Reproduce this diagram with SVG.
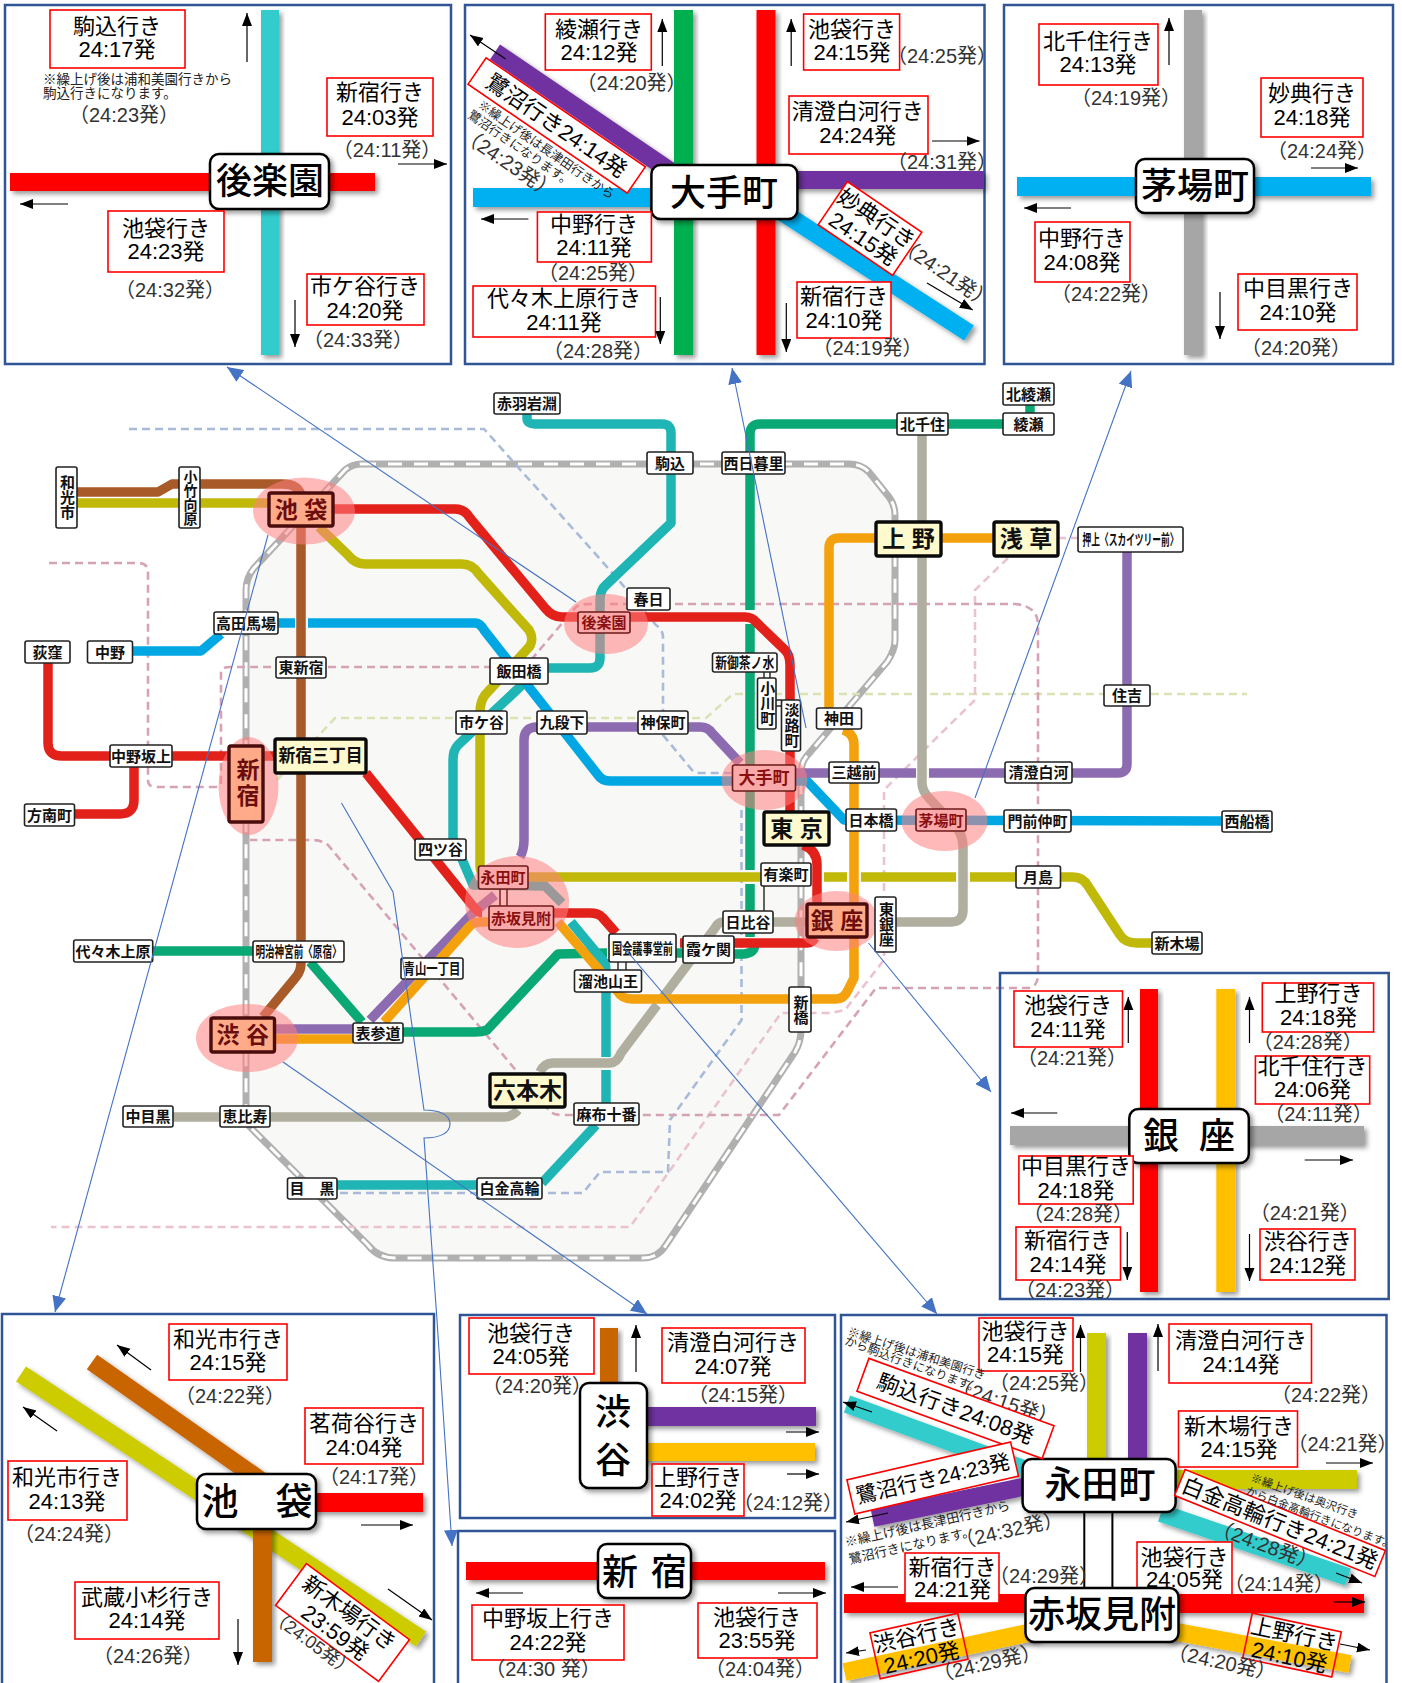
<svg xmlns="http://www.w3.org/2000/svg" width="1402" height="1683" viewBox="0 0 1402 1683">
<style>
text{font-family:"Liberation Sans","Noto Sans CJK JP",sans-serif;fill:#000}
.pn{fill:#fff;stroke:#2f5597;stroke-width:2.5}
.b{fill:#fff;stroke:#f00;stroke-width:1.6}
.bn{fill:none;stroke:#f00;stroke-width:1.6}
.t{font-size:22px;text-anchor:middle}
.s{font-size:20px;text-anchor:middle;fill:#333}
.n{font-size:13px;fill:#222}
.c{fill:#fff;stroke:#000;stroke-width:2.5;filter:url(#sh)}
.ct{font-size:36px;text-anchor:middle;font-weight:500}
.ar{stroke:#000;stroke-width:1.2;fill:none;marker-end:url(#ah)}
.l{stroke-width:18;fill:none;filter:url(#sh)}
.lt{stroke-width:9.5;fill:none;stroke-linejoin:round}
.gap{stroke:#f8f8f6;stroke-width:10;fill:none}
.dash{fill:none;stroke-width:2.6;stroke-dasharray:8 5}
.halo{fill:#ff7f7f;opacity:.55}
.st rect{fill:#fff;stroke:#222;stroke-width:1.6}
.st text{font-size:15px;font-weight:700;text-anchor:middle;dominant-baseline:central;fill:#111}
.pk rect{fill:#f9a9a9;stroke:#6e1a1a;stroke-width:1.6}
.pk text{font-size:15px;font-weight:700;text-anchor:middle;dominant-baseline:central;fill:#8b0f0f}
.sa rect{fill:#ffab8a;stroke:#4a0c0c;stroke-width:3.4}
.sa text{font-size:23px;font-weight:700;text-anchor:middle;dominant-baseline:central;fill:#6b0d0d}
.cr rect{fill:#fffacd;stroke:#0a0a0a;stroke-width:3.4}
.cr text{font-size:23px;font-weight:700;text-anchor:middle;dominant-baseline:central;fill:#111}
.v{writing-mode:vertical-rl}
.cn{stroke:#4472c4;stroke-width:1.1;fill:none;marker-end:url(#bh)}
</style>
<defs>
<filter id="sh" x="-30%" y="-60%" width="160%" height="220%"><feDropShadow dx="3" dy="3" stdDeviation="2.5" flood-color="#000" flood-opacity=".4"/></filter>
<marker id="ah" markerUnits="userSpaceOnUse" markerWidth="14" markerHeight="12" refX="13" refY="5" orient="auto"><path d="M0,0L13,5L0,10Z" fill="#000"/></marker>
<marker id="bh" markerUnits="userSpaceOnUse" markerWidth="17" markerHeight="14" refX="16" refY="7" orient="auto"><path d="M0,0L16,7L0,14Z" fill="#4472c4"/></marker>
</defs>
<rect width="1402" height="1683" fill="#fff"/>

<g id="map-lines">
<path d="M362,464L849,464Q861,464 869,472L889,497Q895,505 895,515L895,640Q895,650 887,662L806,757Q801,763 801,775L801,1030Q801,1042 795,1052L666,1245Q658,1258 643,1258L395,1258Q378,1258 368,1245L250,1127Q246,1122 246,1115L246,590Q246,578 254,568L345,470Q352,464 362,464Z" fill="#f8f8f6" stroke="#b0b0b0" stroke-width="7"/>
<path d="M362,464L849,464Q861,464 869,472L889,497Q895,505 895,515L895,640Q895,650 887,662L806,757Q801,763 801,775L801,1030Q801,1042 795,1052L666,1245Q658,1258 643,1258L395,1258Q378,1258 368,1245L250,1127Q246,1122 246,1115L246,590Q246,578 254,568L345,470Q352,464 362,464Z" fill="none" stroke="#fff" stroke-width="3" stroke-dasharray="14 12"/>
<path class="dash" stroke="#d9e3b5" d="M277,780L335,718L706,718L733,694L1247,694"/>
<path class="dash" stroke="#eac3cf" d="M1058,538L1078,538M1008,558L975,590L975,700L916,758L884,790L884,960L845,1010L831,1013L781,1013L630,1227L51,1227"/>
<path class="dash" stroke="#a9bbd9" d="M129,429L484,429L616,577L656,625Q663,630 663,637L663,735L692,770Q695,773 700,773L733,773M741.5,810L741.5,1020L670,1120L668,1172L600,1172L583,1193L337,1193"/>
<path class="dash" stroke="#d6a3b6" d="M49,563L138,563Q148,563 148,572L148,780Q148,787 156,787L214,787Q221,787 221,782L221,673Q221,667 230,667L490,667M531,660L576,607Q580,604 590,604L1015,604Q1038,606 1038,625L1038,974Q1038,988 1027,988L876,988L779,1115L562,1115Q552,1115 549,1110L328,845Q322,840 312,840L250,840"/>

<path class="lt" stroke="#0aa874" d="M1030,405L1030,413M1003,424L760,424Q750,424 750,434L750,937M734,954L744,954Q754,953 755,945M676,953L683,953M607,953L558,954L487,1030Q482,1032 475,1032L403,1032M362,1022L310,962M153,951L253,951M947,424L1003,424"/>
<path class="gap" d="M750,610L750,624M750,870L750,884"/>
<path class="lt" stroke="#00a7e3" d="M132,651L201,651L221,634M278,623L475,623Q480,623 484,630L598,775Q602,781 610,781L733,781M796,781L807,781L844,820L1222,821"/>
<path class="gap" d="M295,623L308,623"/>
<path class="lt" stroke="#8c6bb1" d="M274,1029L353,1029M370,1020L473,913L495,895M520,857Q524,850 524,840L524,740Q524,727 537,727L700,727Q708,727 712,733L740,763M796,773L1118,773Q1127,773 1127,764L1127,552"/>
<path class="lt" stroke="#1fb5b5" d="M527,414L527,418Q527,424 535,424L662,424Q671,424 671,433L671,523L606,585Q600,590 600,600L600,658Q600,668 590,668L548,668M522,685L458,745Q453,750 453,760L453,838L473,885L545,886L562,903M571,922L605,963Q606,966 606,975L606,1103M596,1125L542,1183M337,1185L477,1185"/>
<path class="lt" stroke="#c1b90a" d="M77,503L300,503M319,527L348,555Q355,564 365,564L462,564Q472,564 478,573L529,630Q534,638 530,646L485,695Q480,702 480,712L480,865Q480,877 492,877L1073,877Q1083,877 1088,886L1120,935Q1125,943 1137,943L1152,943"/>
<path class="gap" d="M810,877L824,877M847,877L861,877M956,877L970,877M916,773L929,773M606,1057L606,1070"/>
<path class="lt" stroke="#b0ae9e" d="M922,435L922,783Q922,790 928,797L956,827Q963,835 963,847L963,910Q963,922 951,922L896,922M773,922L807,922M723,922Q718,922 715,928L621,1053Q617,1063 610,1063L553,1063Q544,1063 540,1072M518,1110Q512,1117 504,1117L173,1117"/>
<path class="gap" d="M650,992L665,1005"/>
<path class="lt" stroke="#e3211b" d="M333,509L455,509Q465,509 470,518L545,608Q552,617 562,617L745,617Q752,617 756,622L785,650Q790,655 790,665L790,812M803,845Q817,850 817,865L817,904M734,943L807,943Q812,943 815,938M680,943L683,943M616,933L602,917Q598,913 590,913L553,913M482,913Q478,913 472,905L366,773M275,756L263,756M229,756L172,756M110,756L62,756Q48,756 48,743L48,663M134,767L134,800Q134,814 120,814L74,814"/>
<path class="lt" stroke="#f3a20d" d="M274,1039L353,1039M384,1022L469,927Q473,922 480,922L489,922M558,922L618,992Q622,999 632,999L836,999Q844,999 848,990L854,978L854,745Q854,733 843,730M829,708L829,548Q829,538 839,538L876,538M941,538L994,538"/>
<path class="lt" stroke="#a85a28" d="M77,492L158,492L172,484L282,484Q301,484 301,498L301,963Q301,971 296,977L263,1017"/>
</g>

<g id="halos">
<ellipse class="halo" cx="304" cy="511" rx="51" ry="33.5"/>
<ellipse class="halo" cx="606" cy="624" rx="42" ry="30"/>
<ellipse class="halo" cx="248.5" cy="786" rx="30" ry="49"/>
<ellipse class="halo" cx="764.5" cy="780" rx="43" ry="30"/>
<ellipse class="halo" cx="944.5" cy="821" rx="43" ry="30"/>
<ellipse class="halo" cx="517" cy="902" rx="52" ry="46"/>
<ellipse class="halo" cx="247" cy="1038" rx="51" ry="34"/>
<ellipse class="halo" cx="836.5" cy="921" rx="42" ry="30"/>
</g>

<g id="stations">
<g id="st-wako" class="st"><rect x="56" y="467" width="21" height="61" rx="2"/><text class="v" x="66.5" y="497.5">和光市</text></g>
<g id="st-kotake" class="st"><rect x="179" y="467" width="21" height="61" rx="2"/><text class="v" x="189.5" y="497.5" style="font-size:14px">小竹向原</text></g>
<g id="st-akabane" class="st"><rect x="494" y="393" width="66" height="21" rx="2"/><text x="527" y="403.5">赤羽岩淵</text></g>
<g id="st-komagome" class="st"><rect x="647" y="452" width="46" height="22" rx="2"/><text x="670" y="463">駒込</text></g>
<g id="st-nishinippori" class="st"><rect x="722" y="452" width="63" height="22" rx="2"/><text x="753.5" y="463">西日暮里</text></g>
<g id="st-kitasenju" class="st"><rect x="897" y="413" width="51" height="22" rx="2"/><text x="922.5" y="424">北千住</text></g>
<g id="st-ayase" class="st"><rect x="1003" y="413" width="51" height="22" rx="2"/><text x="1028.5" y="424">綾瀬</text></g>
<g id="st-kitaayase" class="st"><rect x="1003" y="383" width="51" height="22" rx="2"/><text x="1028.5" y="394">北綾瀬</text></g>
<g id="st-ueno" class="cr"><rect x="876" y="522" width="65" height="34" rx="2"/><text x="908.5" y="539">上 野</text></g>
<g id="st-asakusa" class="cr"><rect x="994" y="522" width="64" height="34" rx="2"/><text x="1026" y="539">浅 草</text></g>
<g id="st-oshiage" class="st"><rect x="1078" y="527" width="105" height="25" rx="2"/><text x="1130.5" y="539.5" textLength="96" lengthAdjust="spacingAndGlyphs">押上〈スカイツリー前〉</text></g>
<g id="st-kasuga" class="st"><rect x="627" y="588" width="43" height="22" rx="2"/><text x="648.5" y="599">春日</text></g>
<g id="st-korakuen" class="pk"><rect x="578" y="612" width="52" height="21" rx="2"/><text x="604" y="622.5">後楽園</text></g>
<g id="st-takadanobaba" class="st"><rect x="214" y="612" width="64" height="22" rx="2"/><text x="246" y="623">高田馬場</text></g>
<g id="st-ogikubo" class="st"><rect x="25" y="641" width="45" height="22" rx="2"/><text x="47.5" y="652">荻窪</text></g>
<g id="st-nakano" class="st"><rect x="87.5" y="641" width="45" height="22" rx="2"/><text x="110" y="652">中野</text></g>
<g id="st-higashishinjuku" class="st"><rect x="276" y="657" width="50" height="21" rx="2"/><text x="301" y="667.5">東新宿</text></g>
<g id="st-iidabashi" class="st"><rect x="490" y="658" width="58" height="26" rx="2"/><text x="519" y="671">飯田橋</text></g>
<g id="st-ichigaya" class="st"><rect x="456" y="711" width="51" height="23" rx="2"/><text x="481.5" y="722.5">市ケ谷</text></g>
<g id="st-kudanshita" class="st"><rect x="537" y="711" width="50" height="23" rx="2"/><text x="562" y="722.5">九段下</text></g>
<g id="st-jimbocho" class="st"><rect x="638" y="711" width="50" height="23" rx="2"/><text x="663" y="722.5">神保町</text></g>
<g id="st-shinochanomizu" class="st"><rect x="712.5" y="653" width="64.5" height="19" rx="2"/><text x="744.7" y="662.5" textLength="59" lengthAdjust="spacingAndGlyphs">新御茶ノ水</text></g>
<g id="st-ogawamachi" class="st"><path d="M764,672V678M770,672V678" stroke="#222" stroke-width="1.4"/><rect x="757.5" y="678" width="18.5" height="51" rx="2"/><text class="v" x="766.7" y="703.5">小川町</text></g>
<g id="st-awajicho" class="st"><path d="M776,700H782M776,706H782" stroke="#222" stroke-width="1.4"/><rect x="781.5" y="700" width="19" height="51" rx="2"/><text class="v" x="791" y="725.5">淡路町</text></g>
<g id="st-kanda" class="st"><rect x="816.5" y="708" width="45" height="21" rx="2"/><text x="839" y="718.5">神田</text></g>
<g id="st-sumiyoshi" class="st"><rect x="1104" y="685" width="46" height="21" rx="2"/><text x="1127" y="695.5">住吉</text></g>
<g id="st-mitsukoshimae" class="st"><rect x="829" y="762" width="50" height="21" rx="2"/><text x="854" y="772.5">三越前</text></g>
<g id="st-kiyosumi" class="st"><rect x="1005" y="762" width="67" height="21" rx="2"/><text x="1038.5" y="772.5">清澄白河</text></g>
<g id="st-otemachi" class="pk"><rect x="732.5" y="765" width="63" height="26" rx="2"/><text x="764" y="778" style="font-size:17px">大手町</text></g>
<g id="st-tokyo" class="cr"><rect x="764" y="812" width="65" height="33" rx="2"/><text x="796.5" y="828.5">東 京</text></g>
<g id="st-nihombashi" class="st"><rect x="846" y="809" width="50.5" height="22" rx="2"/><text x="871" y="820">日本橋</text></g>
<g id="st-kayabacho" class="pk"><rect x="916" y="809" width="50" height="22" rx="2"/><text x="941" y="820">茅場町</text></g>
<g id="st-monzennakacho" class="st"><rect x="1004" y="810" width="67" height="22" rx="2"/><text x="1037.5" y="821">門前仲町</text></g>
<g id="st-nishifunabashi" class="st"><rect x="1222" y="811" width="50" height="21" rx="2"/><text x="1247" y="821.5">西船橋</text></g>
<g id="st-nakanosakaue" class="st"><rect x="110" y="745" width="62" height="22" rx="2"/><text x="141" y="756">中野坂上</text></g>
<g id="st-shinjuku" class="sa"><rect x="229" y="746" width="34" height="76" rx="2"/><text class="v" x="246" y="784" style="letter-spacing:3px">新宿</text></g>
<g id="st-shinjukusanchome" class="cr"><rect x="275" y="739" width="91" height="34" rx="2"/><text x="320.5" y="756" style="font-size:18px" textLength="84" lengthAdjust="spacingAndGlyphs">新宿三丁目</text></g>
<g id="st-honancho" class="st"><rect x="24.5" y="804" width="50" height="22" rx="2"/><text x="49.5" y="815">方南町</text></g>
<g id="st-yotsuya" class="st"><rect x="415" y="839" width="51" height="21" rx="2"/><text x="440.5" y="849.5">四ツ谷</text></g>
<g id="st-ikebukuro" class="sa"><rect x="269" y="493" width="64" height="33" rx="2"/><text x="301" y="509.5">池 袋</text></g>
<g id="st-nagatacho" class="pk"><path d="M500,889V906M507,889V906" stroke="#6e1a1a" stroke-width="1.4"/><rect x="478.5" y="866" width="49.5" height="23" rx="2"/><text x="503" y="877.5">永田町</text></g>
<g id="st-akasakamitsuke" class="pk"><rect x="489" y="906" width="64.5" height="24" rx="2"/><text x="521" y="918">赤坂見附</text></g>
<g id="st-meijijingumae" class="st"><rect x="253" y="941" width="91" height="21" rx="2"/><text x="298.5" y="951.5" textLength="86" lengthAdjust="spacingAndGlyphs">明治神宮前〈原宿〉</text></g>
<g id="st-yoyogiuehara" class="st"><rect x="73.7" y="940" width="79" height="22" rx="2"/><text x="113" y="951">代々木上原</text></g>
<g id="st-aoyama" class="st"><rect x="401" y="958" width="62" height="21" rx="2"/><text x="432" y="968.5" textLength="57" lengthAdjust="spacingAndGlyphs">青山一丁目</text></g>
<g id="st-kokkai" class="st"><path d="M618,962V970M626,962V970" stroke="#222" stroke-width="1.4"/><rect x="609" y="934" width="67" height="28" rx="2"/><text x="642.5" y="948" textLength="61" lengthAdjust="spacingAndGlyphs">国会議事堂前</text></g>
<g id="st-tameike" class="st"><rect x="574.5" y="970" width="67" height="22" rx="2"/><text x="608" y="981">溜池山王</text></g>
<g id="st-kasumigaseki" class="st"><rect x="683" y="936" width="51" height="27" rx="2"/><text x="708.5" y="949.5">霞ケ関</text></g>
<g id="st-hibiya" class="st"><path d="M764,886V911" stroke="#222" stroke-width="1.4"/><rect x="723" y="911" width="50" height="22" rx="2"/><text x="748" y="922">日比谷</text></g>
<g id="st-yurakucho" class="st"><rect x="761" y="863" width="50" height="23" rx="2"/><text x="786" y="874.5">有楽町</text></g>
<g id="st-ginza" class="sa"><rect x="807" y="904" width="60" height="33" rx="2"/><text x="837" y="920.5">銀 座</text></g>
<g id="st-higashiginza" class="st"><rect x="875" y="897" width="21" height="55" rx="2"/><text class="v" x="885.5" y="924.5">東銀座</text></g>
<g id="st-shimbashi" class="st"><rect x="789" y="987" width="22" height="45" rx="2"/><text class="v" x="800" y="1009.5">新橋</text></g>
<g id="st-tsukishima" class="st"><rect x="1016" y="866" width="44.5" height="22" rx="2"/><text x="1038" y="877">月島</text></g>
<g id="st-shinkiba" class="st"><rect x="1152" y="932" width="50" height="22" rx="2"/><text x="1177" y="943">新木場</text></g>
<g id="st-omotesando" class="st"><rect x="353" y="1023" width="50" height="20" rx="2"/><text x="378" y="1033">表参道</text></g>
<g id="st-shibuya" class="sa"><rect x="211" y="1018" width="63.5" height="34" rx="2"/><text x="242.7" y="1035">渋 谷</text></g>
<g id="st-roppongi" class="cr"><rect x="490" y="1074" width="75" height="33" rx="2"/><text x="527.5" y="1090.5">六本木</text></g>
<g id="st-azabujuban" class="st"><rect x="574" y="1103" width="65" height="22" rx="2"/><text x="606.5" y="1114">麻布十番</text></g>
<g id="st-nakameguro" class="st"><rect x="123" y="1106" width="50" height="21" rx="2"/><text x="148" y="1116.5">中目黒</text></g>
<g id="st-ebisu" class="st"><rect x="220" y="1106" width="50" height="21" rx="2"/><text x="245" y="1116.5">恵比寿</text></g>
<g id="st-meguro" class="st"><rect x="287.5" y="1178" width="49.5" height="21" rx="2"/><text x="312" y="1188.5">目　黒</text></g>
<g id="st-shirokane" class="st"><rect x="477" y="1178" width="65" height="21" rx="2"/><text x="509.5" y="1188.5">白金高輪</text></g>
</g>

<g id="panel-korakuen">
<rect class="pn" x="5" y="5" width="446" height="359"/>
<rect class="l" style="stroke:none;fill:#33cccc" x="261" y="10" width="18" height="345"/>
<rect class="l" style="stroke:none;fill:#f00" x="10" y="173" width="365" height="18"/>
<rect class="c" x="210" y="154" width="119" height="55" rx="9"/><text class="ct" x="270" y="194">後楽園</text>
<rect class="b" x="50" y="10" width="135" height="58"/><text class="t" x="117" y="34">駒込行き</text><text class="t" x="117" y="57">24:17発</text>
<text class="n" x="43" y="84" style="font-size:13.5px">※繰上げ後は浦和美園行きから</text><text class="n" x="43" y="98" style="font-size:13.5px">駒込行きになります。</text>
<text class="s" x="124" y="122">（24:23発）</text>
<rect class="b" x="327" y="78" width="106" height="58"/><text class="t" x="380" y="100">新宿行き</text><text class="t" x="380" y="125">24:03発</text>
<text class="s" x="387" y="157">（24:11発）</text>
<rect class="b" x="108" y="211" width="116" height="61"/><text class="t" x="166" y="236">池袋行き</text><text class="t" x="166" y="259">24:23発</text>
<text class="s" x="170" y="297">（24:32発）</text>
<rect class="b" x="307" y="274" width="117" height="51"/><text class="t" x="365" y="294">市ケ谷行き</text><text class="t" x="365" y="318">24:20発</text>
<text class="s" x="358" y="347">（24:33発）</text>
<line class="ar" x1="247" y1="62" x2="247" y2="13"/><line class="ar" x1="398" y1="164" x2="447" y2="164"/><line class="ar" x1="68" y1="204" x2="20" y2="204"/><line class="ar" x1="295" y1="300" x2="295" y2="347"/>
</g>

<g id="panel-otemachi">
<rect class="pn" x="465" y="5" width="519.5" height="359"/>
<line class="l" stroke="#7030a0" x1="495" y1="52" x2="698" y2="190"/>
<rect class="l" style="stroke:none;fill:#00b0f0" x="473" y="188" width="188" height="19"/>
<rect class="l" style="stroke:none;fill:#7030a0" x="787" y="171" width="197" height="18"/>
<line class="l" stroke="#00b0f0" x1="782" y1="212" x2="969" y2="333"/>
<rect class="l" style="stroke:none;fill:#00b050" x="674" y="10" width="19" height="345"/>
<rect class="l" style="stroke:none;fill:#f00" x="756.5" y="10" width="19" height="345"/>
<rect class="c" x="651.4" y="165" width="146" height="54" rx="9"/><text class="ct" x="724" y="206">大手町</text>
<rect class="b" x="545.3" y="14" width="106" height="56"/><text class="t" x="599" y="37">綾瀬行き</text><text class="t" x="599" y="60">24:12発</text>
<text class="s" x="631.6" y="90">（24:20発）</text>
<rect class="b" x="803.6" y="14" width="96" height="56"/><text class="t" x="852" y="37">池袋行き</text><text class="t" x="852" y="60">24:15発</text>
<text class="s" x="942" y="63">（24:25発）</text>
<rect class="b" x="789" y="96" width="139" height="58"/><text class="t" x="857.7" y="119">清澄白河行き</text><text class="t" x="857.7" y="143">24:24発</text>
<text class="s" x="942" y="169">（24:31発）</text>
<rect class="b" x="537.4" y="212" width="114" height="50"/><text class="t" x="594" y="232">中野行き</text><text class="t" x="594" y="255">24:11発</text>
<text class="s" x="593" y="280">（24:25発）</text>
<rect class="b" x="473" y="286" width="182.5" height="51"/><text class="t" x="564" y="306">代々木上原行き</text><text class="t" x="564" y="330">24:11発</text>
<text class="s" x="598" y="358">（24:28発）</text>
<rect class="b" x="797" y="282" width="94" height="56"/><text class="t" x="844" y="304">新宿行き</text><text class="t" x="844" y="328">24:10発</text>
<text class="s" x="867.6" y="355">（24:19発）</text>
<g transform="translate(556.7 125.5) rotate(34.4)"><rect class="b" x="-96.5" y="-16" width="193" height="32"/><text class="t" x="0" y="8">鷺沼行き24:14発</text></g>
<text class="n" style="font-size:12.5px" transform="translate(477 107) rotate(34.6)">※繰上げ後は長津田行きから</text>
<text class="n" style="font-size:12.5px" transform="translate(467 117) rotate(34.6)">鷺沼行きになります。</text>
<text class="s" transform="translate(508.6 163) rotate(34) translate(0 7)">（24:23発）</text>
<g transform="translate(870 228.5) rotate(34.2)"><rect class="b" x="-45" y="-26" width="90" height="52"/><text class="t" x="0" y="-4">妙典行き</text><text class="t" x="0" y="20">24:15発</text></g>
<text class="s" transform="translate(945.5 273) rotate(34) translate(0 7)">（24:21発）</text>
<line class="ar" x1="662.3" y1="66" x2="662.3" y2="19"/><line class="ar" x1="791.2" y1="66" x2="791.2" y2="19"/><line class="ar" x1="932" y1="141" x2="979.6" y2="141"/><line class="ar" x1="528.4" y1="219" x2="481" y2="219"/><line class="ar" x1="660.3" y1="297" x2="660.3" y2="344"/><line class="ar" x1="786.3" y1="303" x2="786.3" y2="352"/><line class="ar" x1="927" y1="283" x2="972.7" y2="310"/><line class="ar" x1="505.6" y1="59" x2="470" y2="35"/>
</g>

<g id="panel-kayabacho">
<rect class="pn" x="1004" y="5" width="389" height="359"/>
<rect class="l" style="stroke:none;fill:#a6a6a6" x="1184" y="10" width="18" height="345"/>
<rect class="l" style="stroke:none;fill:#00b0f0" x="1017" y="177" width="354" height="19"/>
<rect class="c" x="1136" y="159" width="118" height="54" rx="9"/><text class="ct" x="1195" y="199">茅場町</text>
<rect class="b" x="1039" y="24" width="119" height="61"/><text class="t" x="1098" y="49">北千住行き</text><text class="t" x="1098" y="72">24:13発</text>
<text class="s" x="1126" y="105">（24:19発）</text>
<rect class="b" x="1261" y="78" width="102" height="59"/><text class="t" x="1312" y="101">妙典行き</text><text class="t" x="1312" y="125">24:18発</text>
<text class="s" x="1322" y="158">（24:24発）</text>
<rect class="b" x="1035" y="222" width="95" height="60"/><text class="t" x="1082" y="246">中野行き</text><text class="t" x="1082" y="270">24:08発</text>
<text class="s" x="1106" y="301">（24:22発）</text>
<rect class="b" x="1238" y="274" width="119" height="56"/><text class="t" x="1298" y="296">中目黒行き</text><text class="t" x="1298" y="320">24:10発</text>
<text class="s" x="1296" y="355">（24:20発）</text>
<line class="ar" x1="1169" y1="65" x2="1169" y2="18"/><line class="ar" x1="1311" y1="168" x2="1358" y2="168"/><line class="ar" x1="1071" y1="208" x2="1024" y2="208"/><line class="ar" x1="1220" y1="292" x2="1220" y2="339"/>
</g>

<g id="panel-ginza">
<rect class="pn" style="fill:none" x="1000" y="973" width="388.7" height="326"/>
<rect class="l" style="stroke:none;fill:#f00" x="1140" y="989" width="18" height="303"/>
<rect class="l" style="stroke:none;fill:#ffc000" x="1216.3" y="989" width="19" height="303"/>
<rect class="l" style="stroke:none;fill:#a6a6a6" x="1010" y="1126" width="354" height="19"/>
<rect class="c" x="1129.3" y="1109" width="119.5" height="54" rx="9"/><text class="ct" x="1189" y="1149" style="word-spacing:10px">銀 座</text>
<rect class="b" x="1014" y="991" width="108.5" height="56"/><text class="t" x="1068" y="1013">池袋行き</text><text class="t" x="1068" y="1037">24:11発</text>
<text class="s" x="1072" y="1065">（24:21発）</text>
<rect class="b" x="1262.3" y="983" width="111.3" height="49"/><text class="t" x="1318.5" y="1001">上野行き</text><text class="t" x="1318.5" y="1025">24:18発</text>
<text class="s" x="1307.7" y="1049">（24:28発）</text>
<rect class="b" x="1255.4" y="1056" width="114.3" height="48"/><text class="t" x="1312.6" y="1074">北千住行き</text><text class="t" x="1312.6" y="1097">24:06発</text>
<text class="s" x="1318.5" y="1121">（24:11発）</text>
<rect class="b" x="1018.9" y="1156" width="114.3" height="48"/><text class="t" x="1076" y="1174">中目黒行き</text><text class="t" x="1076" y="1198">24:18発</text>
<text class="s" x="1078" y="1221">（24:28発）</text>
<text class="s" x="1304.7" y="1220">（24:21発）</text>
<rect class="b" x="1016" y="1227" width="104.5" height="53"/><text class="t" x="1068" y="1248">新宿行き</text><text class="t" x="1068" y="1272">24:14発</text>
<text class="s" x="1070" y="1297">（24:23発）</text>
<rect class="b" x="1260" y="1229" width="95" height="51"/><text class="t" x="1307.7" y="1249">渋谷行き</text><text class="t" x="1307.7" y="1273">24:12発</text>
<line class="ar" x1="1128.3" y1="1043" x2="1128.3" y2="997"/><line class="ar" x1="1249.5" y1="1043" x2="1249.5" y2="997"/><line class="ar" x1="1057.3" y1="1113" x2="1011" y2="1113"/><line class="ar" x1="1304.7" y1="1160" x2="1353" y2="1160"/><line class="ar" x1="1127.3" y1="1232" x2="1127.3" y2="1280"/><line class="ar" x1="1249.5" y1="1234" x2="1249.5" y2="1281"/>
</g>

<g id="panel-ikebukuro">
<rect class="pn" x="2" y="1314" width="432" height="372"/>
<line class="l" stroke="#cccc00" x1="21" y1="1374" x2="421" y2="1639"/>
<line class="l" stroke="#c96500" x1="92" y1="1362" x2="270" y2="1487"/>
<rect class="l" style="stroke:none;fill:#c96500" x="253" y="1520" width="19" height="142"/>
<rect class="l" style="stroke:none;fill:#f00" x="310" y="1493" width="113" height="19"/>
<rect class="c" x="197" y="1474" width="119" height="55" rx="9"/><text class="ct" x="257" y="1515" style="font-size:37px">池　袋</text>
<rect class="b" x="169" y="1324" width="118" height="56"/><text class="t" x="228" y="1347">和光市行き</text><text class="t" x="228" y="1370">24:15発</text>
<text class="s" x="230" y="1403">（24:22発）</text>
<rect class="b" x="305" y="1408" width="118" height="56"/><text class="t" x="364" y="1431">茗荷谷行き</text><text class="t" x="364" y="1455">24:04発</text>
<text class="s" x="374" y="1484">（24:17発）</text>
<rect class="b" x="8" y="1461" width="119" height="59"/><text class="t" x="67" y="1485">和光市行き</text><text class="t" x="67" y="1509">24:13発</text>
<text class="s" x="69" y="1541">（24:24発）</text>
<rect class="b" x="75" y="1582" width="144" height="57"/><text class="t" x="147" y="1605">武蔵小杉行き</text><text class="t" x="147" y="1628">24:14発</text>
<text class="s" x="148" y="1663">（24:26発）</text>
<g transform="translate(342.5 1622.5) rotate(36.4)"><rect class="b" x="-64" y="-26" width="128" height="52"/><text class="t" x="0" y="-4">新木場行き</text><text class="t" x="0" y="20">23:59発</text></g>
<text class="s" style="font-size:18px" transform="translate(312 1643) rotate(36) translate(0 6)">（24:05発）</text>
<line class="ar" x1="151" y1="1370" x2="117" y2="1345"/><line class="ar" x1="57" y1="1431" x2="23" y2="1407"/><line class="ar" x1="361" y1="1525" x2="413" y2="1525"/><line class="ar" x1="238" y1="1619" x2="238" y2="1665"/><line class="ar" x1="388" y1="1589" x2="432" y2="1620"/>
</g>

<g id="panel-shibuya">
<rect class="pn" x="460" y="1315" width="375" height="203"/>
<rect class="l" style="stroke:none;fill:#c96500" x="600" y="1328" width="18" height="60"/>
<rect class="l" style="stroke:none;fill:#7030a0" x="640" y="1407" width="176" height="19"/>
<rect class="l" style="stroke:none;fill:#ffc000" x="640" y="1443" width="175" height="18"/>
<rect class="c" x="580" y="1383" width="67" height="105" rx="9"/><text class="ct" x="613" y="1425">渋</text><text class="ct" x="613" y="1473">谷</text>
<rect class="b" x="469" y="1318" width="125" height="56"/><text class="t" x="531" y="1341">池袋行き</text><text class="t" x="531" y="1364">24:05発</text>
<text class="s" x="537" y="1393">（24:20発）</text>
<rect class="b" x="662" y="1328" width="143" height="55"/><text class="t" x="733" y="1350">清澄白河行き</text><text class="t" x="733" y="1374">24:07発</text>
<text class="s" x="743" y="1402">（24:15発）</text>
<rect class="b" x="652" y="1464" width="92" height="52"/><text class="t" x="698" y="1485">上野行き</text><text class="t" x="698" y="1508">24:02発</text>
<text class="s" x="788" y="1510">（24:12発）</text>
<line class="ar" x1="636" y1="1372" x2="636" y2="1325"/><line class="ar" x1="786" y1="1432" x2="819" y2="1432"/><line class="ar" x1="787" y1="1474" x2="819" y2="1474"/>
</g>

<g id="panel-shinjuku">
<rect class="pn" x="458" y="1531" width="377" height="155"/>
<rect class="l" style="stroke:none;fill:#f00" x="466" y="1562" width="359" height="18"/>
<rect class="c" x="598" y="1544" width="93" height="54" rx="9"/><text class="ct" x="644.5" y="1585" style="word-spacing:3px">新 宿</text>
<rect class="b" x="472" y="1605" width="152" height="55"/><text class="t" x="548" y="1626">中野坂上行き</text><text class="t" x="548" y="1650">24:22発</text>
<text class="s" x="543" y="1676">（24:30 発）</text>
<rect class="b" x="698" y="1603" width="119" height="55"/><text class="t" x="757" y="1625">池袋行き</text><text class="t" x="757" y="1648">23:55発</text>
<text class="s" x="760" y="1676">（24:04発）</text>
<line class="ar" x1="523" y1="1593" x2="476" y2="1593"/><line class="ar" x1="778" y1="1593" x2="826" y2="1593"/>
</g>

<g id="panel-nagatacho">
<rect class="pn" x="841" y="1315" width="545.5" height="371"/>
<line class="l" stroke="#33cccc" x1="847" y1="1404" x2="1037" y2="1474"/>
<line class="l" stroke="#7030a0" x1="872.5" y1="1518" x2="1037" y2="1484"/>
<rect class="l" style="stroke:none;fill:#cccc00" x="1087" y="1333" width="19" height="135"/>
<rect class="l" style="stroke:none;fill:#7030a0" x="1128" y="1333" width="19" height="135"/>
<rect class="l" style="stroke:none;fill:#cccc00" x="1166" y="1470" width="191" height="19"/>
<line class="l" stroke="#33cccc" x1="1161" y1="1513" x2="1348" y2="1577"/>
<line class="l" stroke="#ffc000" x1="844.5" y1="1672" x2="1037" y2="1631"/>
<line class="l" stroke="#ffc000" x1="1166" y1="1630" x2="1350" y2="1664"/>
<path d="M1084.3,1512V1590M1112.4,1512V1590" stroke="#000" stroke-width="2" fill="none"/>
<rect class="b" x="1137" y="1542" width="95" height="56"/><text class="t" x="1184.5" y="1565">池袋行き</text><text class="t" x="1184.5" y="1587">24:05発</text>
<rect class="l" style="stroke:none;fill:#f00" x="844" y="1594" width="520" height="19"/>
<rect class="b" x="905" y="1553" width="94" height="50"/><text class="t" x="952.5" y="1575">新宿行き</text><text class="t" x="952.5" y="1597">24:21発</text>
<rect class="c" x="1022.6" y="1459" width="153" height="53" rx="9"/><text class="ct" x="1100" y="1498" style="font-size:37px">永田町</text>
<rect class="c" x="1025.5" y="1588" width="153" height="54" rx="9"/><text class="ct" x="1102" y="1628" style="font-size:37px">赤坂見附</text>
<rect class="b" x="979" y="1318" width="94" height="53"/><text class="t" x="1025.5" y="1339">池袋行き</text><text class="t" x="1025.5" y="1362">24:15発</text>
<text class="s" x="1044" y="1390">（24:25発）</text>
<rect class="b" x="1169" y="1324" width="142.5" height="59"/><text class="t" x="1241" y="1348">清澄白河行き</text><text class="t" x="1241" y="1372">24:14発</text>
<text class="s" x="1326" y="1402">（24:22発）</text>
<rect class="b" x="1178.5" y="1411" width="119" height="56"/><text class="t" x="1239" y="1434">新木場行き</text><text class="t" x="1239" y="1457">24:15発</text>
<text class="s" x="1342.5" y="1451">（24:21発）</text>
<text class="n" style="font-size:12px" transform="translate(847 1335) rotate(18)">※繰上げ後は浦和美園行き</text>
<text class="n" style="font-size:12px" transform="translate(844 1344) rotate(20)">から駒込行きになります。</text>
<text class="s" transform="translate(1005 1402) rotate(19) translate(0 7)">（24:15発）</text>
<g transform="translate(955.5 1408.5) rotate(20)"><rect class="b" x="-98.5" y="-17.5" width="197" height="35"/><text class="t" x="0" y="8">駒込行き24:08発</text></g>
<g transform="translate(932.7 1478) rotate(-13)"><rect class="b" x="-84" y="-17.5" width="168" height="35"/><text class="t" x="0" y="8" style="font-size:21px">鷺沼行き24:23発</text></g>
<text class="n" transform="translate(846 1547) rotate(-12.8)">※繰上げ後は長津田行きから</text>
<text class="n" transform="translate(850 1564) rotate(-12.8)">鷺沼行きになります。</text>
<text class="s" transform="translate(1009 1530) rotate(-13) translate(0 7)">（24:32発）</text>
<g transform="translate(1280 1523) rotate(22)"><rect class="b" x="-108" y="-14" width="216" height="28"/><text class="t" x="0" y="8">白金高輪行き24:21発</text></g>
<text class="n" style="font-size:11.3px" transform="translate(1250 1481) rotate(19.5)">※繰上げ後は奥沢行き</text>
<text class="n" style="font-size:11.3px" transform="translate(1245 1494) rotate(20.5)">から白金高輪行きになります。</text>
<text class="s" transform="translate(1265 1545) rotate(20) translate(0 7)">（24:28発）</text>
<text class="s" x="1279" y="1591">（24:14発）</text>
<text class="s" x="1044" y="1583">（24:29発）</text>
<g transform="translate(919 1646) rotate(-12.7)"><rect class="bn" x="-45" y="-23.5" width="90" height="47"/><text class="t" x="0" y="-3">渋谷行き</text><text class="t" x="0" y="20">24:20発</text></g>
<text class="s" transform="translate(987 1663) rotate(-13) translate(0 7)">（24:29発）</text>
<g transform="translate(1292 1645) rotate(12)"><rect class="bn" x="-45.5" y="-23" width="91" height="46"/><text class="t" x="0" y="-3">上野行き</text><text class="t" x="0" y="20">24:10発</text></g>
<text class="s" transform="translate(1222 1662) rotate(12) translate(0 7)">（24:20発）</text>
<line class="ar" x1="1080.5" y1="1372" x2="1080.5" y2="1325"/><line class="ar" x1="1158" y1="1371" x2="1158" y2="1324"/><line class="ar" x1="1326" y1="1463" x2="1373" y2="1463"/><line class="ar" x1="872" y1="1412" x2="843" y2="1402"/><line class="ar" x1="888" y1="1513" x2="846" y2="1522"/><line class="ar" x1="898" y1="1587" x2="851" y2="1587"/><line class="ar" x1="1334" y1="1602" x2="1365" y2="1602"/><line class="ar" x1="866" y1="1650" x2="846" y2="1653"/><line class="ar" x1="1340" y1="1644" x2="1370" y2="1650"/><line class="ar" x1="1336" y1="1573" x2="1362" y2="1583"/>
</g>

<g id="connectors">
<line class="cn" x1="576" y1="602" x2="227" y2="367"/>
<line class="cn" x1="806" y1="728" x2="732" y2="368"/>
<line class="cn" x1="975" y1="798" x2="1131" y2="371"/>
<line class="cn" x1="868.5" y1="943" x2="991" y2="1092"/>
<line class="cn" x1="268" y1="535" x2="55" y2="1312"/>
<line class="cn" x1="283" y1="1062" x2="647" y2="1314"/>
<path class="cn" d="M341.5,803L393,892L424,1110C440,1110 450,1115 450,1124C450,1133 440,1138 424,1138L437,1320L452,1546"/>
<line class="cn" x1="620" y1="943" x2="937" y2="1314"/>
</g>
</svg>
